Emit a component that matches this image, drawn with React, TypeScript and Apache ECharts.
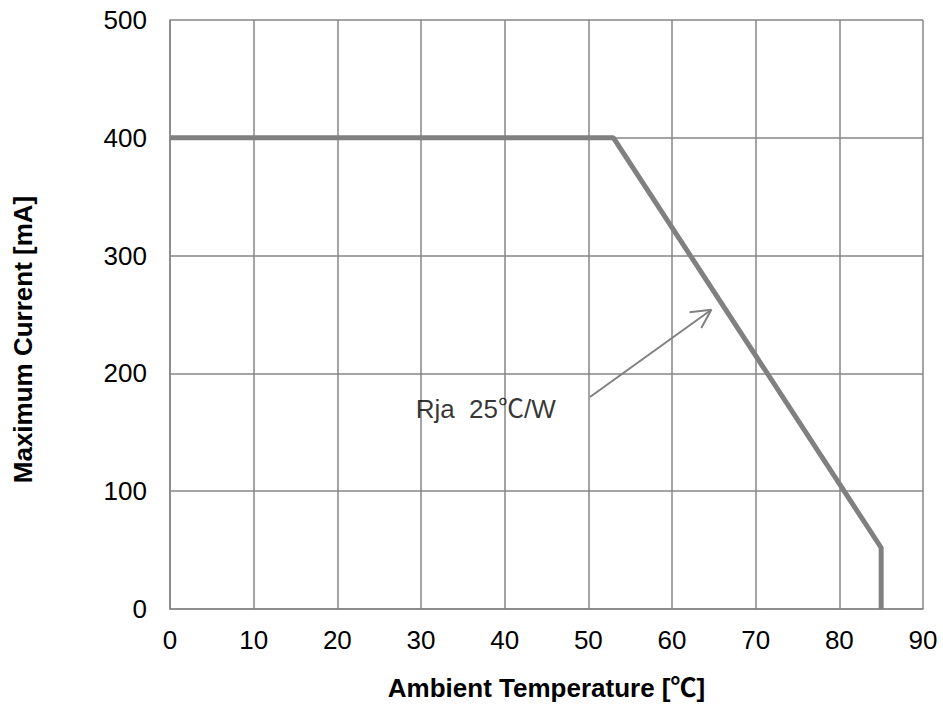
import React, { useEffect, useRef } from "react";
import * as echarts from "echarts";

const xTicks = [0, 10, 20, 30, 40, 50, 60, 70, 80, 90];
const yTicks = [0, 100, 200, 300, 400, 500];
const curve: [number, number][] = [
  [0, 400],
  [53, 400],
  [85, 52],
  [85, 0],
];
const arrowShaft: [number, number][] = [
  [50.2, 180],
  [64.7, 254],
];
const arrowHead: [number, number][] = [
  [62.1, 252],
  [64.7, 254],
  [63.5, 238.5],
];
const noteLabel = "Rja  25℃/W";
const notePos: [number, number] = [29.3, 170];
const xName = "Ambient Temperature [℃]";
const yName = "Maximum Current [mA]";

const FONT = "'Liberation Sans', Arial, 'Noto Sans CJK SC', sans-serif";
const GRAY = "#868686";
const LINE = "#808080";

export default function App() {
  const ref = useRef<HTMLDivElement>(null);
  useEffect(() => {
    if (!ref.current) return;
    const chart = echarts.init(ref.current, undefined, { renderer: "svg" });
    chart.setOption({
      animation: false,
      backgroundColor: "#fff",
      textStyle: { fontFamily: FONT },
      grid: { left: 170, right: 20, top: 20, bottom: 98, containLabel: false },
      xAxis: {
        type: "value",
        min: xTicks[0],
        max: xTicks[xTicks.length - 1],
        interval: 10,
        name: xName,
        nameLocation: "middle",
        nameGap: 66,
        nameTextStyle: { fontSize: 26, fontWeight: "bold", color: "#000", fontFamily: FONT },
        axisLine: { show: true, lineStyle: { color: GRAY, width: 1.5 } },
        axisTick: { show: false },
        axisLabel: { fontSize: 26, color: "#000", margin: 18, fontFamily: FONT },
        splitLine: { show: true, lineStyle: { color: GRAY, width: 1.5 } },
      },
      yAxis: {
        type: "value",
        min: yTicks[0],
        max: yTicks[yTicks.length - 1],
        interval: 100,
        name: yName,
        nameLocation: "middle",
        nameGap: 134,
        nameTextStyle: {
          fontSize: 26,
          fontWeight: "bold",
          color: "#000",
          fontFamily: FONT,
          padding: [0, 50, 0, 0],
        },
        axisLine: { show: true, lineStyle: { color: GRAY, width: 1.5 } },
        axisTick: { show: false },
        axisLabel: { fontSize: 26, color: "#000", margin: 23, fontFamily: FONT },
        splitLine: { show: true, lineStyle: { color: GRAY, width: 1.5 } },
      },
      series: [
        {
          type: "line",
          data: curve,
          symbol: "none",
          lineStyle: { color: LINE, width: 5 },
          z: 5,
        },
        {
          type: "line",
          data: arrowShaft,
          symbol: "none",
          lineStyle: { color: LINE, width: 2 },
          z: 4,
        },
        {
          type: "line",
          data: arrowHead,
          symbol: "none",
          lineStyle: { color: LINE, width: 2 },
          z: 4,
        },
        {
          type: "scatter",
          data: [notePos],
          symbolSize: 1,
          itemStyle: { color: "rgba(0,0,0,0)" },
          label: {
            show: true,
            position: "right",
            distance: 0,
            formatter: noteLabel,
            fontSize: 26,
            color: "#000",
            fontFamily: FONT,
          },
          z: 6,
        },
      ],
    });
    return () => chart.dispose();
  }, []);
  return (
    <div
      ref={ref}
      style={{ position: "fixed", left: 0, top: 0, width: 943, height: 707 }}
    />
  );
}
